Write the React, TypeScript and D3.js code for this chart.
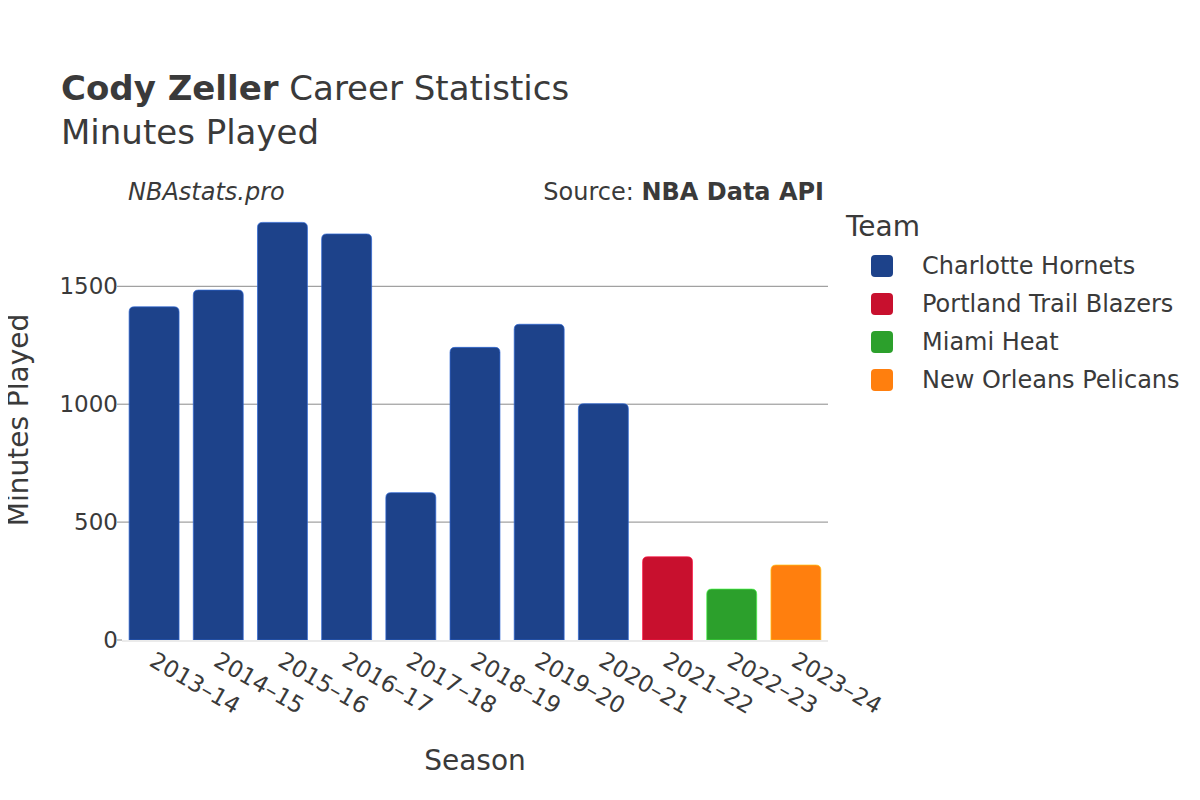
import React, { useEffect, useRef } from 'react';
import * as d3 from 'd3';

const seasons = ['2013-14', '2014-15', '2015-16', '2016-17', '2017-18', '2018-19', '2019-20', '2020-21', '2021-22', '2022-23', '2023-24'];
const minutes = [1413, 1484, 1771, 1722, 625, 1241, 1339, 1002, 353, 216, 318];
const seasonTeams = ['Charlotte Hornets', 'Charlotte Hornets', 'Charlotte Hornets', 'Charlotte Hornets', 'Charlotte Hornets', 'Charlotte Hornets', 'Charlotte Hornets', 'Charlotte Hornets', 'Portland Trail Blazers', 'Miami Heat', 'New Orleans Pelicans'];
const teams = ['Charlotte Hornets', 'Portland Trail Blazers', 'Miami Heat', 'New Orleans Pelicans'];
const teamColors = ['#1d428a', '#c8102e', '#2ca02c', '#ff7f0e'];
const yTicks = [0, 500, 1000, 1500];

const FONT = '"DejaVu Sans", sans-serif';
const TEXT = '#3a3a3a';

const App: React.FC = () => {
	const svgRef = useRef<SVGSVGElement>(null);

	useEffect(() => {
		if (svgRef.current == null) return;
		const width = 1200;
		const height = 800;
		const plot = { left: 122, right: 828, top: 200, bottom: 640 };

		const svg = d3.select(svgRef.current)
			.attr('width', width)
			.attr('height', height)
			.style('font-family', FONT);
		svg.selectAll('*').remove();

		const x = d3.scaleBand<string>()
			.domain(seasons)
			.range([plot.left, plot.right])
			.paddingInner(0.222)
			.paddingOuter(0.111);

		const y = d3.scaleLinear()
			.domain([0, 1866])
			.range([plot.bottom, plot.top]);

		const color = d3.scaleOrdinal<string, string>().domain(teams).range(teamColors);

		// grid
		svg.append('g')
			.selectAll('line')
			.data(yTicks.filter(t => t > 0))
			.join('line')
			.attr('x1', plot.left)
			.attr('x2', plot.right)
			.attr('y1', d => y(d))
			.attr('y2', d => y(d))
			.attr('stroke', '#8a8a8a')
			.attr('stroke-width', 1);

		// y tick marks + labels
		const yAxis = svg.append('g');
		yAxis.selectAll('line')
			.data(yTicks)
			.join('line')
			.attr('x1', plot.left - 5)
			.attr('x2', plot.left)
			.attr('y1', d => y(d))
			.attr('y2', d => y(d))
			.attr('stroke', '#8a8a8a');
		yAxis.selectAll('text')
			.data(yTicks)
			.join('text')
			.attr('x', plot.left - 4)
			.attr('y', d => y(d))
			.attr('dy', '0.35em')
			.attr('text-anchor', 'end')
			.style('font-size', '23px')
			.style('fill', TEXT)
			.text(d => String(d));

		// bars with rounded tops
		const r = 5;
		svg.append('g')
			.selectAll('path')
			.data(seasons.map((s, i) => ({ s, v: minutes[i], team: seasonTeams[i] })))
			.join('path')
			.attr('d', d => {
				const x0 = x(d.s)!;
				const w = x.bandwidth();
				const y0 = y(d.v);
				const yb = y(0);
				return `M${x0},${yb} L${x0},${y0 + r} Q${x0},${y0} ${x0 + r},${y0} L${x0 + w - r},${y0} Q${x0 + w},${y0} ${x0 + w},${y0 + r} L${x0 + w},${yb} Z`;
			})
			.attr('fill', d => color(d.team))
			.attr('stroke', d => d3.color(color(d.team))!.brighter(1.2).formatHex())
			.attr('stroke-width', 0.7);

		// zero line
		svg.append('line')
			.attr('x1', plot.left)
			.attr('x2', plot.right)
			.attr('y1', y(0) + 1)
			.attr('y2', y(0) + 1)
			.attr('stroke', '#ebebeb')
			.attr('stroke-width', 2);

		// x tick labels (rotated)
		svg.append('g')
			.selectAll('text')
			.data(seasons)
			.join('text')
			.attr('transform', d => `translate(${x(d)! + x.bandwidth() / 2 - 2},${plot.bottom + 18}) rotate(30)`)
			.attr('text-anchor', 'start')
			.attr('dy', '0.35em')
			.style('font-size', '23px')
			.style('fill', TEXT)
			.text(d => d.replace('-', '–'));

		// axis titles
		svg.append('text')
			.attr('x', (plot.left + plot.right) / 2)
			.attr('y', 770)
			.attr('text-anchor', 'middle')
			.style('font-size', '28px')
			.style('fill', TEXT)
			.text('Season');

		svg.append('text')
			.attr('transform', `translate(28,${(plot.top + plot.bottom) / 2}) rotate(-90)`)
			.attr('text-anchor', 'middle')
			.style('font-size', '28px')
			.style('fill', TEXT)
			.text('Minutes Played');

		// titles
		const title = svg.append('text')
			.attr('x', 61)
			.attr('y', 100)
			.style('font-size', '34px')
			.style('fill', TEXT);
		title.append('tspan').style('font-weight', 'bold').text('Cody Zeller');
		title.append('tspan').text(' Career Statistics');

		svg.append('text')
			.attr('x', 61)
			.attr('y', 144)
			.style('font-size', '34px')
			.style('fill', TEXT)
			.text('Minutes Played');

		svg.append('text')
			.attr('x', 128)
			.attr('y', 200)
			.style('font-size', '24px')
			.style('font-style', 'italic')
			.style('fill', TEXT)
			.text('NBAstats.pro');

		const src = svg.append('text')
			.attr('x', 824)
			.attr('y', 200)
			.attr('text-anchor', 'end')
			.style('font-size', '24px')
			.style('fill', TEXT);
		src.append('tspan').text('Source: ');
		src.append('tspan').style('font-weight', 'bold').text('NBA Data API');

		// legend
		const legend = svg.append('g');
		legend.append('text')
			.attr('x', 846)
			.attr('y', 236)
			.style('font-size', '28px')
			.style('fill', TEXT)
			.text('Team');
		const items = legend.selectAll('g.item')
			.data(teams)
			.join('g')
			.attr('class', 'item')
			.attr('transform', (d, i) => `translate(0,${266 + i * 38})`);
		items.append('rect')
			.attr('x', 871)
			.attr('y', -11)
			.attr('width', 22)
			.attr('height', 22)
			.attr('rx', 4)
			.attr('fill', d => color(d));
		items.append('text')
			.attr('x', 922)
			.attr('dy', '0.35em')
			.style('font-size', '24px')
			.style('fill', TEXT)
			.text(d => d);
	}, []);

	return <svg ref={svgRef} style={{ display: 'block', margin: '-8px' }}></svg>;
};

export default App;
